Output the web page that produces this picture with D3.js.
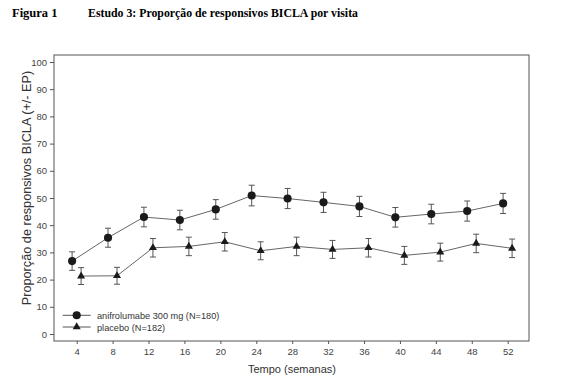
<!DOCTYPE html>
<html lang="pt">
<head>
<meta charset="UTF-8">
<title>Figura 1</title>
<script src="https://d3js.org/d3.v7.min.js"></script>
<style>
  body { margin: 0; background: #fff; }
  svg text { font-family: "Liberation Sans", Arial, sans-serif; }
</style>
</head>
<body>
<div id="chart"></div>
<script>
  // data
  const weeks = [4, 8, 12, 16, 20, 24, 28, 32, 36, 40, 44, 48, 52]
  const anifValues = [26.8, 35.4, 43.0, 41.9, 45.8, 50.9, 49.8, 48.4, 46.9, 42.9, 44.1, 45.2, 48.0]
  const anifSE = [3.4, 3.5, 3.6, 3.6, 3.6, 3.8, 3.7, 3.7, 3.7, 3.6, 3.6, 3.7, 3.7]
  const placeboValues = [21.3, 21.4, 31.7, 32.2, 33.9, 30.6, 32.2, 31.1, 31.7, 28.9, 30.1, 33.3, 31.5]
  const placeboSE = [3.1, 3.1, 3.4, 3.4, 3.4, 3.3, 3.4, 3.3, 3.4, 3.3, 3.3, 3.4, 3.4]
  const yTicks = [0, 10, 20, 30, 40, 50, 60, 70, 80, 90, 100]
  const seriesNames = ['anifrolumabe 300 mg (N=180)', 'placebo (N=182)']

  const width = 564, height = 385
  const frame = { left: 54, right: 529, top: 55, bottom: 341 }

  const svg = d3.select('#chart').append('svg')
    .attr('width', width)
    .attr('height', height)

  // header
  svg.append('text')
    .attr('x', 12).attr('y', 17)
    .style('font-family', '"Liberation Serif", "Times New Roman", serif')
    .style('font-weight', 'bold').style('font-size', '12.5px')
    .text('Figura 1')
  svg.append('text')
    .attr('x', 88).attr('y', 17)
    .attr('textLength', 270).attr('lengthAdjust', 'spacingAndGlyphs')
    .style('font-family', '"Liberation Serif", "Times New Roman", serif')
    .style('font-weight', 'bold').style('font-size', '12.5px')
    .text('Estudo 3: Proporção de responsivos BICLA por visita')

  const x = d3.scaleLinear().domain([4, 52]).range([76.7, 507.7])
  const y = d3.scaleLinear().domain([0, 100]).range([334, 62])

  // frame
  svg.append('rect')
    .attr('x', frame.left).attr('y', frame.top)
    .attr('width', frame.right - frame.left)
    .attr('height', frame.bottom - frame.top)
    .attr('fill', 'none').attr('stroke', '#555').attr('stroke-width', 1)

  // axes
  const yAxis = svg.append('g')
    .attr('transform', `translate(${frame.left},0)`)
    .call(d3.axisLeft(y).tickValues(yTicks).tickSize(4).tickPadding(3))
  const xAxis = svg.append('g')
    .attr('transform', `translate(0,${frame.bottom})`)
    .call(d3.axisBottom(x).tickValues(weeks).tickSize(3).tickPadding(4))
  ;[yAxis, xAxis].forEach(a => {
    a.select('.domain').remove()
    a.selectAll('line').attr('stroke', '#555')
    a.selectAll('text').attr('fill', '#444').style('font-size', '9.5px')
  })

  svg.append('text')
    .attr('transform', 'translate(31,188) rotate(-90)')
    .attr('text-anchor', 'middle')
    .attr('fill', '#333').style('font-size', '12.7px')
    .text('Proporção de responsivos BICLA (+/- EP)')

  svg.append('text')
    .attr('x', 292).attr('y', 373)
    .attr('text-anchor', 'middle')
    .attr('fill', '#333').style('font-size', '11px')
    .text('Tempo (semanas)')

  const series = [
    { values: anifValues, se: anifSE, offset: -4.6, shape: d3.symbolCircle, size: 52 },
    { values: placeboValues, se: placeboSE, offset: 4.4, shape: d3.symbolTriangle, size: 28 }
  ]

  const line = d3.line()
    .x(d => d.x)
    .y(d => y(d.v))

  series.forEach(s => {
    const pts = weeks.map((w, i) => ({ x: x(w) + s.offset, v: s.values[i], se: s.se[i] }))
    const g = svg.append('g')

    g.append('path')
      .attr('d', line(pts))
      .attr('fill', 'none').attr('stroke', '#666').attr('stroke-width', 1)

    const eb = g.selectAll('.eb').data(pts).enter().append('g')
    eb.append('line')
      .attr('x1', d => d.x).attr('x2', d => d.x)
      .attr('y1', d => y(d.v + d.se)).attr('y2', d => y(d.v - d.se))
      .attr('stroke', '#555')
    eb.append('line')
      .attr('x1', d => d.x - 3).attr('x2', d => d.x + 3)
      .attr('y1', d => y(d.v + d.se)).attr('y2', d => y(d.v + d.se))
      .attr('stroke', '#555')
    eb.append('line')
      .attr('x1', d => d.x - 3).attr('x2', d => d.x + 3)
      .attr('y1', d => y(d.v - d.se)).attr('y2', d => y(d.v - d.se))
      .attr('stroke', '#555')

    g.selectAll('.pt').data(pts).enter().append('path')
      .attr('transform', d => `translate(${d.x},${y(d.v)})`)
      .attr('d', d3.symbol().type(s.shape).size(s.size))
      .attr('fill', '#1a1a1a')
  })

  // legend
  const legend = svg.append('g')
  series.forEach((s, i) => {
    const ly = 315.3 + i * 11.7
    legend.append('line')
      .attr('x1', 62.7).attr('x2', 90.7).attr('y1', ly).attr('y2', ly)
      .attr('stroke', '#555')
    legend.append('path')
      .attr('transform', `translate(76.7,${ly})`)
      .attr('d', d3.symbol().type(s.shape).size(s.size))
      .attr('fill', '#1a1a1a')
    legend.append('text')
      .attr('x', 97).attr('y', ly + 3.5)
      .attr('fill', '#333').style('font-size', '9.2px')
      .text(seriesNames[i])
  })
</script>
</body>
</html>
